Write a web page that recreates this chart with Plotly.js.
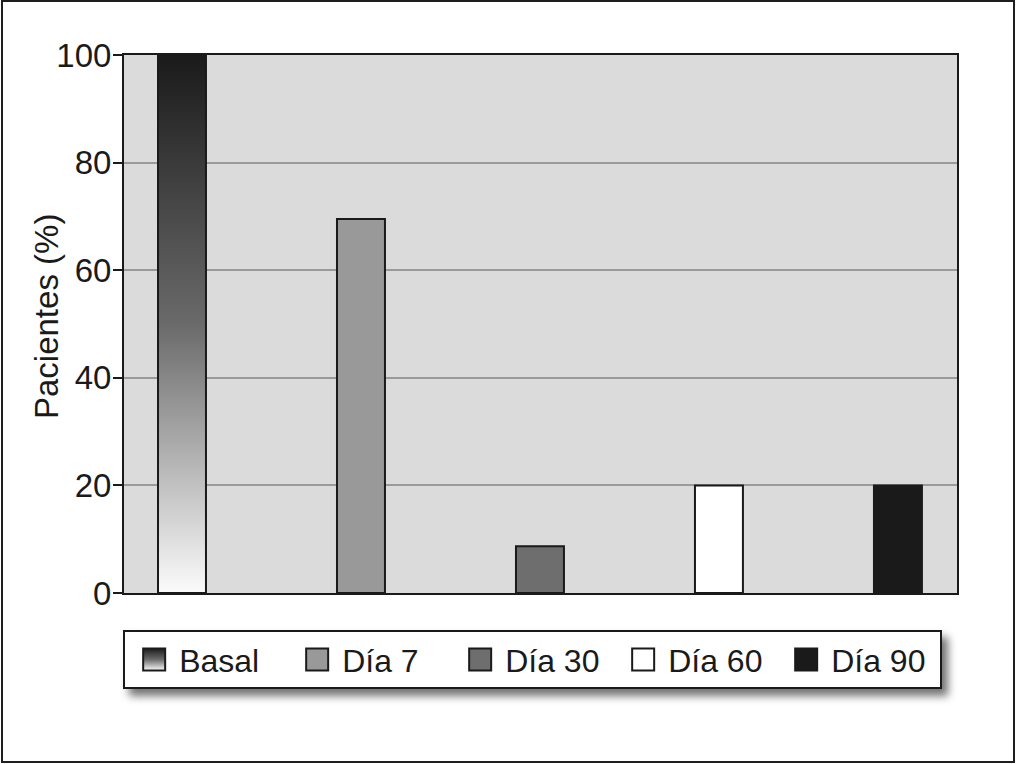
<!DOCTYPE html>
<html>
<head>
<meta charset="utf-8">
<script src="https://cdn.plot.ly/plotly-3.0.1.min.js"></script>
<style>
  html, body { margin: 0; padding: 0; background: #ffffff; }
  #wrap { position: relative; width: 1016px; height: 764px; }
  #chart { width: 1016px; height: 764px; }
  #frame { position: absolute; left: 1px; top: 0px; width: 1014px; height: 763px;
           border: 2px solid #1e1e1e; box-sizing: border-box; pointer-events: none; }
</style>
</head>
<body>
<div id="wrap">
  <div id="chart"></div>
  <div id="frame"></div>
</div>
<script>
// ---- data ----
var categories = ['Basal', 'Día 7', 'Día 30', 'Día 60', 'Día 90'];
var values = [100, 69.5, 8.7, 20, 20];
var barColors = ['#808080', '#999999', '#6e6e6e', '#ffffff', '#1a1a1a'];
var yTickValues = [0, 20, 40, 60, 80, 100];
var yTickLabels = ['0', '20', '40', '60', '80', '100'];
var yTitle = 'Pacientes (%)';

var FONT = '"Liberation Sans", Arial, Helvetica, sans-serif';

var traces = categories.map(function (name, i) {
  return {
    type: 'bar',
    name: name,
    x: [categories[i]],
    y: [values[i]],
    width: 0.268,
    marker: { color: barColors[i], line: { color: '#1a1a1a', width: 2 } },
    hoverinfo: 'name+y'
  };
});

var layout = {
  width: 1016,
  height: 764,
  paper_bgcolor: '#ffffff',
  plot_bgcolor: '#dbdbdb',
  margin: { l: 124, r: 59, t: 55, b: 171, pad: 0 },
  barmode: 'overlay',
  showlegend: true,
  font: { family: FONT, size: 32, color: '#1a1a1a' },
  xaxis: {
    type: 'category',
    categoryorder: 'array',
    categoryarray: categories,
    range: [-0.324, 4.33],
    showticklabels: false,
    ticks: '',
    showgrid: false,
    showline: true,
    mirror: true,
    linecolor: '#1a1a1a',
    linewidth: 2,
    zeroline: false,
    fixedrange: true
  },
  yaxis: {
    range: [0, 100],
    tickvals: yTickValues,
    ticktext: yTickLabels,
    ticks: 'outside',
    ticklen: 9,
    tickwidth: 2,
    tickcolor: '#1a1a1a',
    ticklabelstandoff: -5,
    tickfont: { family: FONT, size: 33, color: '#1a1a1a' },
    showgrid: true,
    gridcolor: '#9a9a9a',
    gridwidth: 2,
    zeroline: false,
    showline: true,
    mirror: true,
    linecolor: '#1a1a1a',
    linewidth: 2,
    automargin: false,
    fixedrange: true
  },
  annotations: [{
    text: yTitle,
    xref: 'paper', yref: 'paper',
    x: -0.0936, y: 0.513,
    xanchor: 'center', yanchor: 'middle',
    textangle: -90,
    showarrow: false,
    font: { family: FONT, size: 33, color: '#1a1a1a' }
  }],
  legend: {
    orientation: 'h',
    x: -0.001,
    xanchor: 'left',
    y: -0.069,
    yanchor: 'top',
    bgcolor: '#ffffff',
    bordercolor: '#1a1a1a',
    borderwidth: 2,
    entrywidth: 118,
    font: { family: FONT, size: 32, color: '#1a1a1a' },
    traceorder: 'normal'
  }
};

function decorate(gd) {
  var svg = gd.querySelector('svg.main-svg');
  var ns = 'http://www.w3.org/2000/svg';
  var defs = svg.querySelector('defs') || svg.insertBefore(document.createElementNS(ns, 'defs'), svg.firstChild);
  var grad = document.createElementNS(ns, 'linearGradient');
  grad.setAttribute('id', 'basalGrad');
  grad.setAttribute('x1', '0'); grad.setAttribute('y1', '0');
  grad.setAttribute('x2', '0'); grad.setAttribute('y2', '1');
  [['0', '#1a1a1a'], ['0.5', '#6a6a6a'], ['1', '#fbfbfb']].forEach(function (s) {
    var st = document.createElementNS(ns, 'stop');
    st.setAttribute('offset', s[0]);
    st.setAttribute('stop-color', s[1]);
    grad.appendChild(st);
  });
  defs.appendChild(grad);

  // gradient on the Basal bar
  var barTraces = gd.querySelectorAll('.barlayer .trace');
  if (barTraces.length) {
    barTraces[0].querySelectorAll('path').forEach(function (p) { p.style.fill = 'url(#basalGrad)'; });
  }
  // bigger legend swatches, a little left of the text
  var items = gd.querySelectorAll('.legend .traces');
  items.forEach(function (it, i) {
    it.querySelectorAll('.legendpoints path').forEach(function (p) {
      p.setAttribute('d', 'M6,11H-16V-11H6Z');
      if (i === 0) p.style.fill = 'url(#basalGrad)';
    });
  });
  // shift legend entries right inside the box
  var groups = gd.querySelector('.legend .groups');
  if (groups) groups.setAttribute('transform', (groups.getAttribute('transform') || '') + ' translate(14,0)');
  // legend drop shadow
  var bg = gd.querySelector('.legend rect.bg');
  if (bg) bg.style.filter = 'drop-shadow(6px 7px 4px rgba(0,0,0,0.55))';
}

var gd = document.getElementById('chart');
Plotly.newPlot(gd, traces, layout, { displayModeBar: false, staticPlot: true }).then(function () {
  decorate(gd);
});
</script>
</body>
</html>
